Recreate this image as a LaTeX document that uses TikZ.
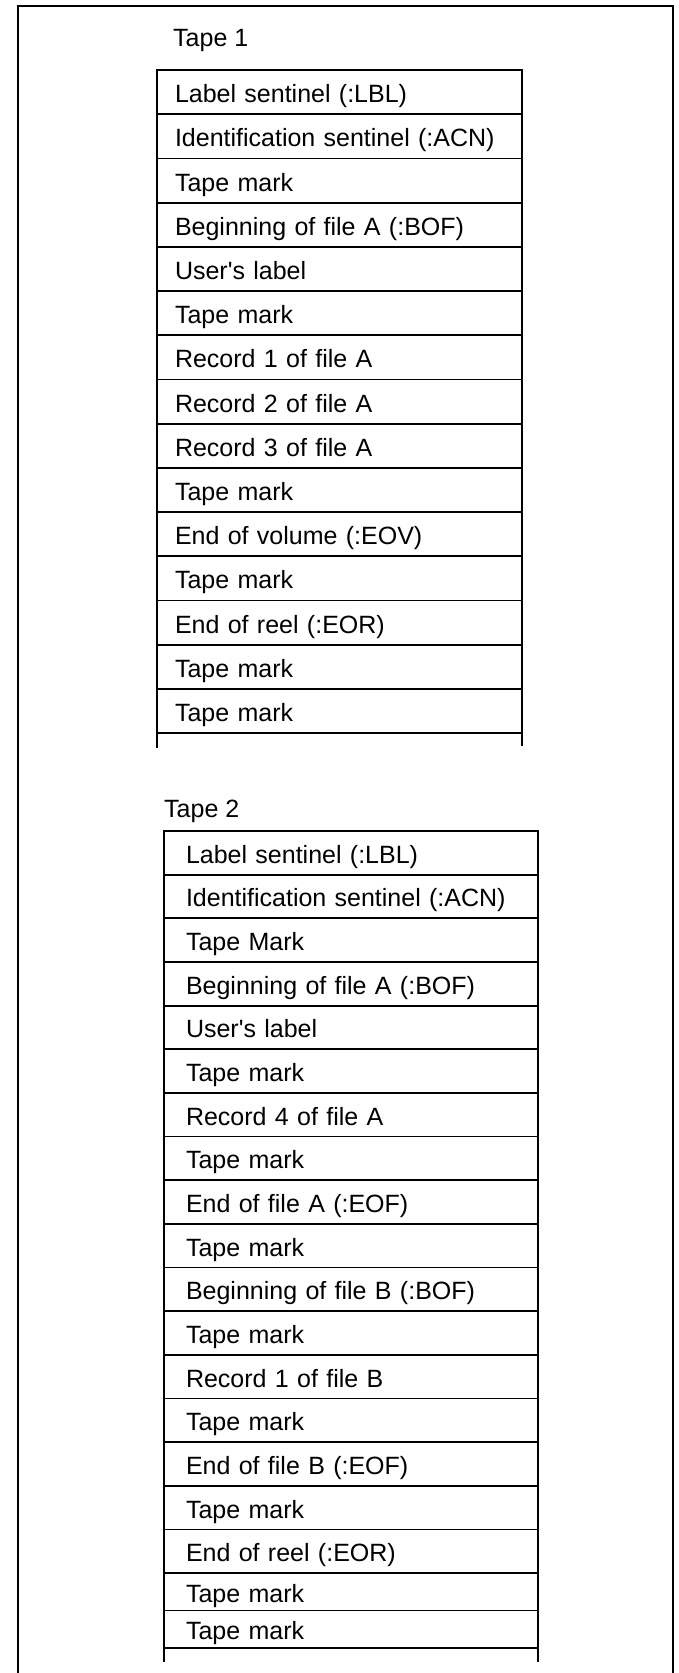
\documentclass[tikz,border=0pt]{standalone}
\usepackage{fontspec}
\setmainfont{Liberation Sans}
\usetikzlibrary{positioning}

\begin{document}
\begin{tikzpicture}[x=1pt,y=-1pt,
    rowone/.style={draw,line width=1.8pt,outer sep=0pt,inner xsep=18pt,inner ysep=0pt,
      minimum width=365pt,minimum height=44.2pt,text width=329pt,align=left,
      text height=21pt,text depth=0pt,font=\fontsize{25}{30}\selectfont},
    rowtwo/.style={rowone,inner xsep=22pt,minimum width=374pt,minimum height=43.65pt,text width=330pt},
    side/.style={line width=2.8pt},
    tapelabel/.style={anchor=base west,inner sep=0pt,font=\fontsize{25}{30}\selectfont}
]
\useasboundingbox (0,0) rectangle (679,1673);

% frame, open at the bottom
\draw[line width=2.8pt] (18,1673) -- (18,6) -- (673,6) -- (673,1673);

% Tape 1
\node[tapelabel] (tape1) at (173,46) {Tape 1};
\node[rowone,anchor=north west] (t1r1) at (157,70) {Label sentinel (:LBL)};
\foreach \txt [count=\i from 2, remember=\i as \j (initially 1)] in
    {Identification sentinel (:ACN), Tape mark, Beginning of file A (:BOF),
     User\textquotesingle{}s label, Tape mark, Record 1 of file A, Record 2 of file A,
     Record 3 of file A, Tape mark, End of volume (:EOV), Tape mark,
     End of reel (:EOR), Tape mark, Tape mark}
  \node[rowone,below=0pt of t1r\j] (t1r\i) {\txt};
\draw[side] (t1r1.north west) -- (t1r15.south west) -- ++(0,15);
\draw[side] (t1r1.north east) -- (t1r15.south east) -- ++(0,13);

% Tape 2
\node[tapelabel] (tape2) at (164,817) {Tape 2};
\node[rowtwo,anchor=north west] (t2r1) at (164,831) {Label sentinel (:LBL)};
\foreach \txt [count=\i from 2, remember=\i as \j (initially 1)] in
    {Identification sentinel (:ACN), Tape Mark, Beginning of file A (:BOF),
     User\textquotesingle{}s label, Tape mark, Record 4 of file A, Tape mark,
     End of file A (:EOF), Tape mark, Beginning of file B (:BOF), Tape mark,
     Record 1 of file B, Tape mark, End of file B (:EOF), Tape mark,
     End of reel (:EOR)}
  \node[rowtwo,below=0pt of t2r\j] (t2r\i) {\txt};
\node[rowtwo,minimum height=37.5pt,below=0pt of t2r17] (t2r18) {Tape mark};
\node[rowtwo,minimum height=37.5pt,below=0pt of t2r18] (t2r19) {Tape mark};
\draw[side] (t2r1.north west) -- (t2r19.south west) -- ++(0,14);
\draw[side] (t2r1.north east) -- (t2r19.south east) -- ++(0,14);
\end{tikzpicture}
\end{document}
